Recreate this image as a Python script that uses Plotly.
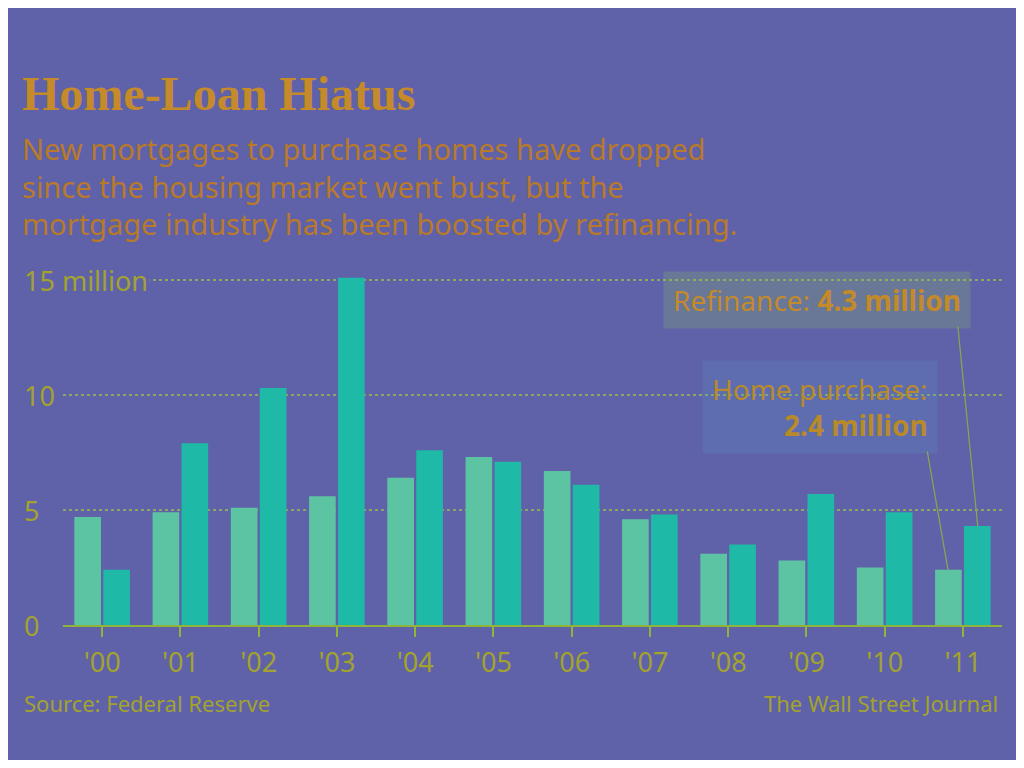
import plotly.graph_objects as go

# values in millions of new mortgages
years = ["'00", "'01", "'02", "'03", "'04", "'05", "'06", "'07", "'08", "'09", "'10", "'11"]
home_purchase = [4.7, 4.9, 5.1, 5.6, 6.4, 7.3, 6.7, 4.6, 3.1, 2.8, 2.5, 2.4]
refinance = [2.4, 7.9, 10.3, 15.1, 7.6, 7.1, 6.1, 4.8, 3.5, 5.7, 4.9, 4.3]
ytick_vals = [0, 5, 10, 15]
ytick_text = ["0", "5", "10", "15 million"]

BG = "#5f62a8"
TXT = "#a3a22e"
FONT = "Noto Sans, Open Sans, sans-serif"

# the page puts the figure 8px in from the corner, so size it to fit
OFF = 8
W, H = 1024 - 2 * OFF, 768 - 2 * OFF
# plot area in screen pixels: x 63..1002, y 268..625
L, R, T, B = 63 - OFF, W - (1002 - OFF), 268 - OFF, H - (625 - OFF)
PW, PH = W - L - R, H - T - B


def px(x):
    return (x - OFF - L) / PW


def py(y):
    return (H - B - (y - OFF)) / PH


fig = go.Figure()
fig.add_trace(go.Bar(x=years, y=home_purchase, name="Home purchase",
                     marker_color="#5cc4a2", marker_line_width=0))
fig.add_trace(go.Bar(x=years, y=refinance, name="Refinance",
                     marker_color="#1fb9a8", marker_line_width=0))

ann = []
for v, t in zip(ytick_vals, ytick_text):
    ann.append(dict(x=px(22), y=v, xref="paper", yref="y", text=t, showarrow=False,
                    xanchor="left", yanchor="middle", bgcolor=BG if v == 15 else None,
                    font=dict(size=27, color=TXT)))

ann.append(dict(x=px(20), y=py(93), xref="paper", yref="paper",
                text="<b>Home-Loan Hiatus</b>", showarrow=False, xanchor="left",
                yanchor="middle",
                font=dict(family="Liberation Serif, serif", size=48, color="#c58a2a")))
ann.append(dict(x=px(20), y=py(186), xref="paper", yref="paper",
                text="New mortgages to purchase homes have dropped<br>"
                     "since the housing market went bust, but the<br>"
                     "mortgage industry has been boosted by refinancing.",
                showarrow=False, xanchor="left", yanchor="middle", align="left",
                font=dict(size=29, color="#b87a2a")))

# callouts for the latest year
ann.append(dict(x=px(971), y=py(300), xref="paper", yref="paper",
                text="Refinance: <b>4.3 million</b>", showarrow=False, xanchor="right",
                yanchor="middle", bgcolor="rgba(140,200,90,0.22)", borderpad=9,
                font=dict(size=28, color="#c48a2a")))
ann.append(dict(x=px(938), y=py(407), xref="paper", yref="paper",
                text="Home purchase:<br><b>2.4 million</b>", showarrow=False,
                xanchor="right", yanchor="middle", align="right", borderpad=9,
                bgcolor="rgba(90,150,200,0.22)",
                font=dict(size=28, color="#b88a2a")))
# leader lines (offsets in pixels from the bar top to the box corner)
ann.append(dict(x=11.19, y=refinance[-1], xref="x", yref="y", ax=-20, ay=-201,
                text="", showarrow=True, arrowhead=0, arrowwidth=1.2, arrowcolor="#8aa84a"))
ann.append(dict(x=10.81, y=home_purchase[-1], xref="x", yref="y", ax=-21, ay=-120,
                text="", showarrow=True, arrowhead=0, arrowwidth=1.2, arrowcolor="#8aa84a"))

ann.append(dict(x=px(22), y=py(703), xref="paper", yref="paper", text="Source: Federal Reserve",
                showarrow=False, xanchor="left", yanchor="middle",
                font=dict(size=22, color=TXT)))
ann.append(dict(x=px(1000), y=py(703), xref="paper", yref="paper", text="The Wall Street Journal",
                showarrow=False, xanchor="right", yanchor="middle",
                font=dict(size=22, color=TXT)))

fig.update_layout(
    width=W, height=H,
    margin=dict(l=L, r=R, t=T, b=B),
    paper_bgcolor=BG, plot_bgcolor="rgba(0,0,0,0)",
    font=dict(family=FONT, color=TXT),
    barmode="group", bargap=0.26, bargroupgap=0.08,
    showlegend=False,
    annotations=ann,
    xaxis=dict(range=[-0.5, 11.5], showline=True, linecolor="#8fb43a", linewidth=2,
               ticks="outside", ticklen=10, tickcolor="#8fb43a", tickwidth=1.5,
               tickfont=dict(size=27, color=TXT), ticklabelstandoff=3, showgrid=False,
               zeroline=False),
    yaxis=dict(range=[0, PH / 23], tickvals=[5, 10, 15], showticklabels=False,
               showgrid=True, gridcolor="#8aa860", griddash="dot", gridwidth=1.5,
               zeroline=False, fixedrange=True),
)

fig.write_html("out.html")
